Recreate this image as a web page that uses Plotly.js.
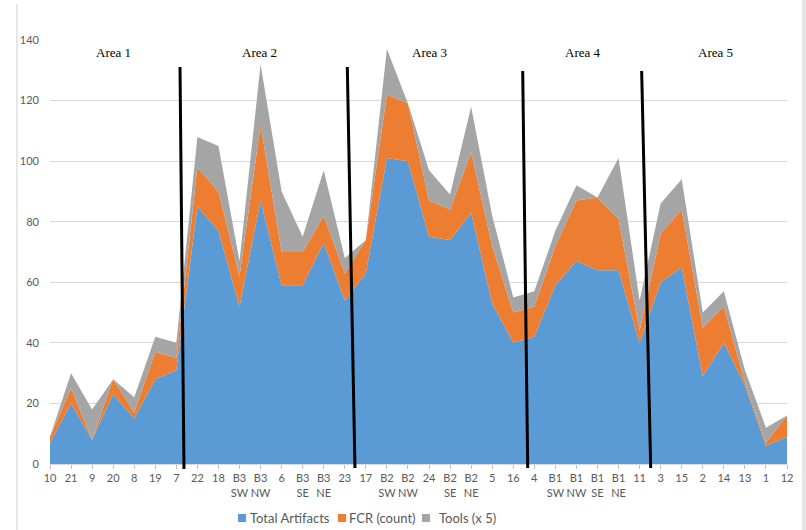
<!DOCTYPE html>
<html>
<head>
<meta charset="utf-8">
<script src="https://cdn.plot.ly/plotly-3.0.1.min.js"></script>
<style>
  html, body { margin: 0; padding: 0; background: #ffffff; }
  #chart { width: 806px; height: 530px; }
</style>
</head>
<body>
<div id="chart"></div>
<script>
// Excavation units, in the order they are plotted along the x axis
const units = ['10', '21', '9', '20', '8', '19', '7',
  '22', '18', 'B3<br>SW', 'B3<br>NW', '6', 'B3<br>SE', 'B3<br>NE', '23',
  '17', 'B2<br>SW', 'B2<br>NW', '24', 'B2<br>SE', 'B2<br>NE', '5', '16',
  '4', 'B1<br>SW', 'B1<br>NW', 'B1<br>SE', 'B1<br>NE', '11',
  '3', '15', '2', '14', '13', '1', '12'];

// Stacked series (bottom to top)
const totalArtifacts = [7, 20, 8, 23, 15, 28, 31, 85, 77, 52, 87, 59, 59, 73, 54, 63, 101, 100,
  75, 74, 83, 53, 40, 42, 59, 67, 64, 64, 40, 60, 65, 29, 40, 26, 6, 9];
const fcrCount = [2, 5, 0, 5, 2, 9, 4, 13, 13, 10, 25, 11, 11, 9, 9, 11, 21, 19,
  12, 10, 20, 19, 10, 10, 13, 20, 24, 17, 4, 16, 19, 16, 12, 1, 1, 7];
const toolsX5 = [0, 5, 10, 0, 5, 5, 5, 10, 15, 5, 20, 20, 5, 15, 5, 0, 15, 0,
  10, 5, 15, 10, 5, 5, 5, 5, 0, 20, 10, 10, 10, 5, 5, 4, 5, 0];

const seriesNames = ['Total Artifacts', 'FCR (count)', 'Tools (x 5)'];
const seriesColors = ['#5b9bd5', '#ed7d31', '#a5a5a5'];

// Area names and the unit each label is centred over
const areaNames = ['Area 1', 'Area 2', 'Area 3', 'Area 4', 'Area 5'];
const areaCentres = [3, 9.97, 18.04, 25.3, 31.6];

const xs = units.map((_, i) => i);

const stackValues = [totalArtifacts, fcrCount, toolsX5];
const traces = stackValues.map((values, k) => ({
  type: 'scatter', mode: 'lines', name: seriesNames[k],
  x: xs, y: values, stackgroup: 'one',
  line: { width: 0, color: seriesColors[k] }, fillcolor: seriesColors[k],
  showlegend: false, hoverinfo: 'skip'
}));

// Hand-drawn dividers between areas (paper coordinates of the plot box)
const dividers = [
  [0.1764, 0.9363, 0.1818, -0.0118],
  [0.4034, 0.9363, 0.4138, -0.0094],
  [0.6414, 0.9269, 0.6482, -0.0094],
  [0.8028, 0.9269, 0.8151, -0.0094]
];
const shapes = dividers.map(d => ({
  type: 'line', xref: 'paper', yref: 'paper',
  x0: d[0], y0: d[1], x1: d[2], y1: d[3],
  line: { color: '#000000', width: 3 }, layer: 'above'
}));
// outer frame edges
shapes.push({ type: 'line', xref: 'paper', yref: 'paper', x0: -0.0448, x1: -0.0448,
  y0: 1.085, y1: -0.16, line: { color: '#d0d0d0', width: 1 } });
shapes.push({ type: 'rect', xref: 'paper', yref: 'paper', x0: 1.0204, x1: 1.03,
  y0: 1.1, y1: -0.16, line: { width: 0 }, fillcolor: '#e6e6e6' });

const annotations = areaNames.map((t, i) => ({
  text: t, x: areaCentres[i], y: 136, xref: 'x', yref: 'y',
  showarrow: false, font: { family: 'Liberation Serif', size: 13, color: '#000000' }
}));

// Legend row below the axis: square key + label for each series
const keyLeft = [0.2551, 0.3908, 0.5047];
const labelLeft = [0.2687, 0.4030, 0.5251];
seriesNames.forEach((name, k) => {
  shapes.push({ type: 'rect', xref: 'paper', yref: 'paper',
    x0: keyLeft[k], x1: keyLeft[k] + 0.0109, y0: -0.1368, y1: -0.1179,
    line: { width: 0 }, fillcolor: seriesColors[k] });
  annotations.push({ text: name, xref: 'paper', yref: 'paper',
    x: labelLeft[k], y: -0.1262, xanchor: 'left', yanchor: 'middle',
    showarrow: false, font: { family: 'Lato', size: 13, color: '#595959' } });
});

const layout = {
  width: 806, height: 530,
  margin: { l: 50, r: 19, t: 40, b: 66, autoexpand: false },
  paper_bgcolor: '#ffffff', plot_bgcolor: '#ffffff',
  showlegend: false,
  xaxis: {
    range: [0, units.length - 1],
    tickmode: 'array', tickvals: xs, ticktext: units,
    ticks: 'outside', ticklen: 4, tickcolor: '#bfbfbf',
    showgrid: false, zeroline: false,
    showline: true, linecolor: '#d9d9d9', linewidth: 1,
    tickangle: 0, automargin: false,
    tickfont: { family: 'Lato', size: 11, color: '#595959' }
  },
  yaxis: {
    range: [0, 140], dtick: 20,
    showgrid: true, gridcolor: '#d9d9d9', gridwidth: 1,
    zeroline: false, showline: false, ticks: '',
    ticklabelstandoff: 10, automargin: false,
    tickfont: { family: 'Lato', size: 11, color: '#595959' }
  },
  shapes: shapes,
  annotations: annotations
};

Plotly.newPlot('chart', traces, layout, { displayModeBar: false, staticPlot: true });
</script>
</body>
</html>
